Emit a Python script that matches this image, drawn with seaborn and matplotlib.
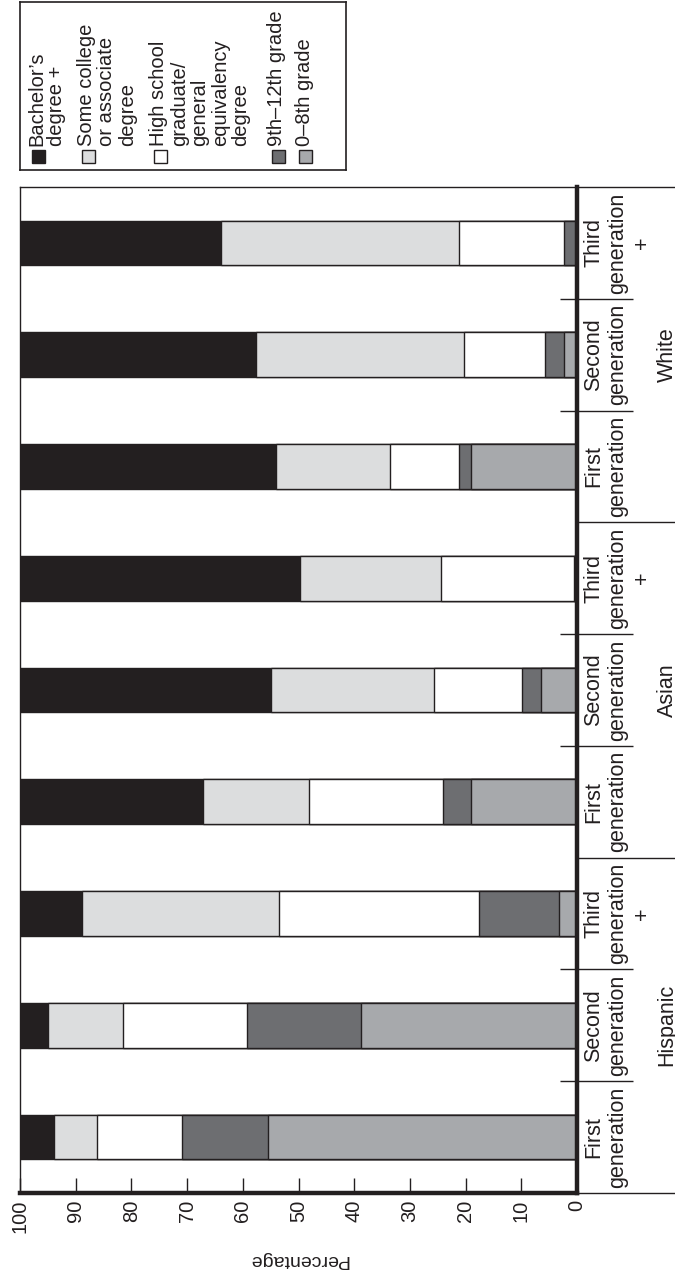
import matplotlib
matplotlib.use("Agg")
import matplotlib.pyplot as plt
import matplotlib.transforms as mtransforms
from matplotlib.patches import Rectangle
import numpy as np
import pandas as pd
import seaborn as sns

# ---------------- data ----------------
groups = ["Hispanic", "Asian", "White"]
generations = ["First\ngeneration", "Second\ngeneration", "Third\ngeneration\n+"]
level_labels = ["Bachelor\u2019s\ndegree +",
                "Some college\nor associate\ndegree",
                "High school\ngraduate/\ngeneral\nequivalency\ndegree",
                "9th\u201312th grade",
                "0\u20138th grade"]
level_colors = ["#231f20", "#dcddde", "#ffffff", "#6d6e71", "#a7a9ac"]

# order: Hispanic F/S/T, Asian F/S/T, White F/S/T
bachelors    = [6.1, 5.1, 11.1, 32.9, 45.0, 50.2, 46.0, 42.3, 36.0]
some_college = [7.7, 13.4, 35.4, 19.0, 29.3, 25.3, 20.5, 37.4, 42.8]
high_school  = [15.3, 22.3, 35.9, 24.0, 15.8, 23.9, 12.3, 14.6, 18.9]
grade_9_12   = [15.4, 20.5, 14.4, 5.1, 3.4, 0.3, 2.2, 3.4, 2.3]
grade_0_8    = [55.5, 38.7, 3.2, 19.0, 6.5, 0.3, 19.0, 2.3, 0.0]
tick_values = list(range(0, 101, 10))
axis_label = "Percentage"

# ---------------- figure ----------------
W, H = 675, 1276
sns.set_theme(style="white")
plt.rcParams["font.family"] = ["Liberation Sans", "DejaVu Sans"]
edge = "#231f20"

fig = plt.figure(figsize=(W / 100, H / 100), dpi=100)
ax_l, ax_r, ax_t, ax_b = 20, 577, 187, 1193
ax = fig.add_axes([ax_l / W, 1 - ax_b / H, (ax_r - ax_l) / W, (ax_b - ax_t) / H])

cats = [f"{g}|{k}" for g in groups for k in range(3)]
order = cats[::-1]  # top to bottom in the picture
segments = [grade_0_8, grade_9_12, high_school, some_college, bachelors]
seg_colors = level_colors[::-1]
cums = np.cumsum(np.array(segments), axis=0)
df = pd.DataFrame({"cat": cats})
for i in reversed(range(len(segments))):
    df["v"] = cums[i]
    sns.barplot(data=df, x="v", y="cat", order=order, orient="h",
                color=seg_colors[i], saturation=1, width=0.4,
                edgecolor=edge, linewidth=1.0, errorbar=None, ax=ax)

ax.set_xlim(100, 0)
ax.set_ylim(len(cats) - 0.5, -0.5)
ax.set_ylabel("")
ax.set_yticks([])
ax.set_xticks(tick_values)
ax.set_xticklabels([str(v) for v in tick_values])
ax.tick_params(axis="x", direction="in", length=11, width=1.0, color=edge,
               labelsize=14.5, labelrotation=90, pad=5, bottom=True, top=False,
               labelcolor="#231f20")
ax.set_xlabel(axis_label, fontsize=14, rotation=180, labelpad=13, color="#231f20")
for s in ["left", "top"]:
    ax.spines[s].set_linewidth(1.0)
    ax.spines[s].set_color(edge)
for s in ["bottom", "right"]:
    ax.spines[s].set_linewidth(3.2)
    ax.spines[s].set_color(edge)

# ---------------- category table on the right ----------------
tr = mtransforms.blended_transform_factory(ax.transAxes, ax.transData)
px = lambda p: (p - ax_l) / (ax_r - ax_l)
n = len(order)
for pos, c in enumerate(order):
    g, k = c.split("|")
    ax.text(px(583), pos, generations[int(k)], transform=tr, rotation=90,
            ha="left", va="center", multialignment="center", fontsize=15.5,
            linespacing=1.22, color="#231f20")
for gi, g in enumerate(groups):
    mid = order.index(f"{g}|1")
    ax.text(px(667), mid, g, transform=tr, rotation=90, ha="center",
            va="center", fontsize=15.5, color="#231f20")
for b in np.arange(0.5, n - 1, 1.0):
    if b in (2.5, 5.5):
        ax.plot([1.0, px(675)], [b, b], transform=tr, color=edge, lw=1.0,
                clip_on=False, solid_capstyle="butt")
    else:
        ax.plot([px(560), px(633)], [b, b], transform=tr, color=edge, lw=1.0,
                clip_on=False, solid_capstyle="butt")
ax.plot([1.0, px(675)], [1, 1], transform=ax.transAxes, color=edge, lw=1.0,
        clip_on=False, solid_capstyle="butt")
ax.plot([1.0, px(675)], [0, 0], transform=ax.transAxes, color=edge, lw=1.0,
        clip_on=False, solid_capstyle="butt")

# ---------------- legend (rotated, drawn manually) ----------------
lg_l, lg_r, lg_t, lg_b = 20, 346, 2, 170
lax = fig.add_axes([lg_l / W, 1 - lg_b / H, (lg_r - lg_l) / W, (lg_b - lg_t) / H])
lw_, lh_ = lg_r - lg_l, lg_b - lg_t
lax.set_xlim(0, lw_)
lax.set_ylim(lh_, 0)
lax.set_xticks([])
lax.set_yticks([])
lax.set_facecolor("white")
for s in lax.spines.values():
    s.set_linewidth(1.2)
    s.set_color(edge)
pitch, gap, sq = 22.5, 5, 13
x = 7
for lab, col in zip(level_labels, level_colors):
    nl = lab.count("\n") + 1
    lax.add_patch(Rectangle((x + (pitch - sq) / 2, lh_ - 7 - sq), sq, sq,
                            facecolor=col, edgecolor=edge, lw=1.0))
    lax.text(x, lh_ - 7 - sq - 4, lab, rotation=90, ha="left", va="bottom",
             multialignment="left", fontsize=14.5, linespacing=1.1,
             color="#231f20")
    x += nl * pitch + gap

fig.savefig("out.png", dpi=100, facecolor="white")
